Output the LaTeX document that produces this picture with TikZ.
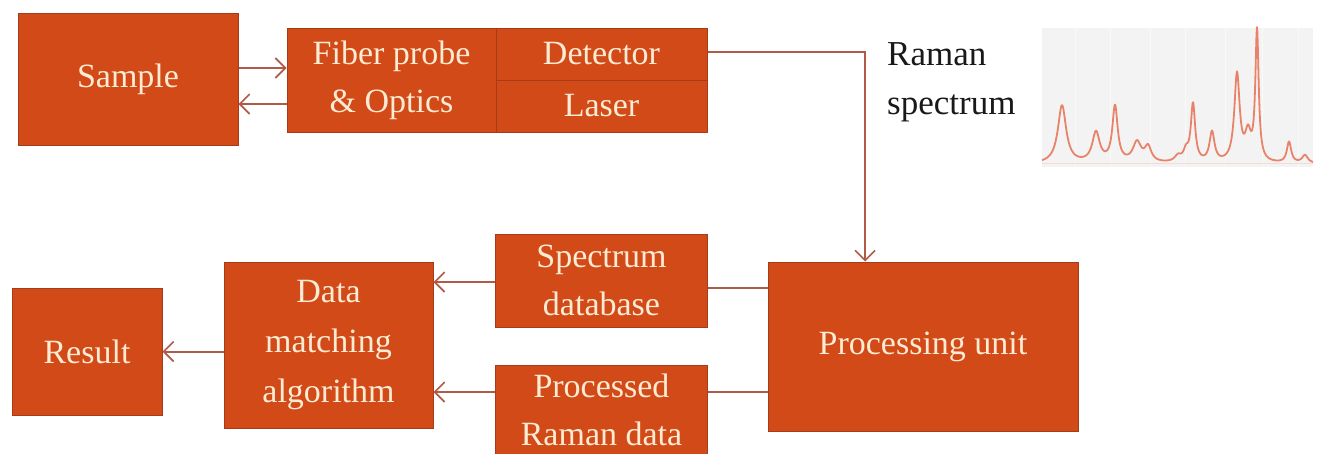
\documentclass[tikz,border=0pt]{standalone}
\usepackage{fontspec}
\setmainfont{Liberation Serif}
\usetikzlibrary{arrows.meta,calc}
\definecolor{boxfill}{HTML}{D24A18}
\definecolor{boxline}{HTML}{A63C17}
\definecolor{boxtext}{HTML}{FDEBD3}
\definecolor{conn}{HTML}{B05A48}
\definecolor{specbg}{HTML}{F3F3F3}
\definecolor{specline}{HTML}{E8836A}
\tikzset{
  blk/.style={draw=boxline, line width=1pt, fill=boxfill, text=boxtext,
    font=\fontsize{34}{48}\selectfont, align=center, inner sep=0pt},
  arr/.style={draw=conn, line width=2pt, -{Straight Barb[length=10pt,width=20pt,line width=1.6pt]}},
  lin/.style={draw=conn, line width=2pt},
  lbl/.style={font=\fontsize{35}{49}\selectfont, text=black!90, align=left, inner sep=0pt},
}
\begin{document}
\begin{tikzpicture}[x=1pt,y=-1pt,
  declare function={lz(\u,\c,\h,\w)=\h/(1+(min(abs((\u-\c)/\w),100))^2);}]
\useasboundingbox (0,0) rectangle (1320,453);
% nodes
\node[blk, minimum width=220pt, minimum height=132pt] (sample) at (128,79) {Sample};
\node[blk, minimum width=209pt, minimum height=104pt] (fiber) at (391.5,80) {Fiber probe\\\& Optics};
\node[blk, minimum width=211pt, minimum height=52pt] (detector) at (601.5,54) {Detector};
\node[blk, minimum width=211pt, minimum height=52pt] (laser) at (601.5,106) {Laser};
\node[blk, minimum width=310pt, minimum height=169pt] (pu) at (923,346.5) {Processing unit};
\node[blk, minimum width=212pt, minimum height=93pt] (db) at (601.5,280.5) {Spectrum\\database};
\node[blk, minimum width=212pt, minimum height=90pt] (proc) at (601.5,410) {Processed\\Raman data};
\node[blk, font=\fontsize{34}{50}\selectfont, minimum width=209pt, minimum height=166pt] (dma) at (328.5,345) {Data\\matching\\algorithm};
\node[blk, minimum width=150pt, minimum height=127pt] (result) at (87,351.5) {Result};
\node[lbl, anchor=north west] (label) at (887,42) {Raman\\spectrum};
% spectrum picture
\node[fill=specbg, minimum width=271pt, minimum height=139pt, inner sep=0pt] (spec) at (1177.5,97.5) {};
\foreach \gx in {1075,1110,1150,1185,1225,1262,1298}
  \draw[white!50!specbg, line width=1pt] (\gx,28) -- (\gx,167);
\draw[specline!30, line width=0.8pt] (1042,163) -- (1313,163);
\draw[specline, line width=1.8pt, line join=round] plot[domain=0:271, samples=600]
  ({1042+\x}, {164 - lz(\x,20,58,5) - lz(\x,54,30,4.5) - lz(\x,73,56,3.2)
   - lz(\x,95,20,5) - lz(\x,106,15,4) - lz(\x,136,6,4) - lz(\x,144,10,3)
   - lz(\x,151,58,2.6) - lz(\x,170,30,3) - lz(\x,195,88,3.2) - lz(\x,206,26,3.5)
   - lz(\x,215,131,2) - lz(\x,247,21,2.6) - lz(\x,263,8,3.5)});
% connectors
\coordinate (s1) at ([yshift=11pt]sample.east);
\draw[arr] (s1) -- (s1 -| fiber.west);
\coordinate (f2) at ([yshift=-24pt]fiber.west);
\draw[arr] (f2) -- (f2 -| sample.east);
\coordinate (d1) at ([yshift=2pt]detector.east);
\draw[arr] (d1) -| ([xshift=-58pt]pu.north);
\coordinate (c1) at ([yshift=58.5pt]pu.west);
\draw[lin] (c1) -- (c1 -| db.east);
\coordinate (c2) at ([yshift=-45.5pt]pu.west);
\draw[lin] (c2) -- (c2 -| proc.east);
\coordinate (a1) at ([yshift=-1.5pt]db.west);
\draw[arr] (a1) -- (a1 -| dma.east);
\coordinate (a2) at ([yshift=18pt]proc.west);
\draw[arr] (a2) -- (a2 -| dma.east);
\draw[arr] (result.east -| dma.west) -- (result.east);
\end{tikzpicture}
\end{document}
